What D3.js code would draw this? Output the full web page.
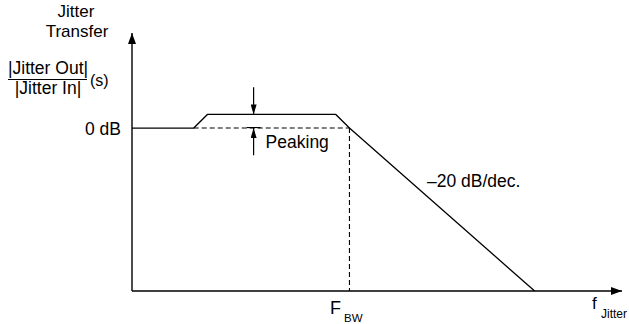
<!DOCTYPE html>
<html>
<head>
<meta charset="utf-8">
<script src="https://cdn.jsdelivr.net/npm/d3@7"></script>
<style>
  body { margin: 0; background: #fff; }
  text { font-family: "Liberation Sans", Arial, sans-serif; fill: #000; }
</style>
</head>
<body>
<div id="container"></div>
<script>
// frequency normalised to F_BW (log axis), gain in dB
const respFreq = [3e-4, 0.003, 0.005, 0.6, 1, 1000];
const respDb = [0, 0, 5, 5, 0, -60];

const refFreq = [0.003, 1];   // dashed 0 dB reference up to F_BW
const peakFreq = 0.028;        // where the peaking arrows sit
const peakDb = [15, 5, 0, -10]; // down-arrow top, peak, 0 dB, up-arrow bottom

function drawChart() {
    const width = 629;
    const height = 324;

    const x = d3.scaleLog().domain([3e-4, 2.6e4]).range([132, 622]);
    const y = d3.scaleLinear().domain([-60, 35]).range([291, 33]);

    const svg = d3.create("svg")
        .attr("width", width)
        .attr("height", height)
        .attr("viewBox", [0, 0, width, height]);

    const defs = svg.append("defs");
    defs.append("marker")
        .attr("id", "axisHead")
        .attr("viewBox", "0 0 11 8")
        .attr("refX", 11).attr("refY", 4)
        .attr("markerWidth", 11).attr("markerHeight", 8)
        .attr("markerUnits", "userSpaceOnUse")
        .attr("orient", "auto")
        .append("path").attr("d", "M0,0L11,4L0,8Z").attr("fill", "#000");
    defs.append("marker")
        .attr("id", "smallHead")
        .attr("viewBox", "0 0 10 6")
        .attr("refX", 10).attr("refY", 3)
        .attr("markerWidth", 10).attr("markerHeight", 6)
        .attr("markerUnits", "userSpaceOnUse")
        .attr("orient", "auto")
        .append("path").attr("d", "M0,0L10,3L0,6Z").attr("fill", "#000");

    const [xMin, xMax] = x.domain();
    const [yMin, yMax] = y.domain();

    // axes
    svg.append("line")
        .attr("x1", x(xMin)).attr("y1", y(yMin))
        .attr("x2", x(xMin)).attr("y2", y(yMax))
        .attr("stroke", "#000").attr("stroke-width", 1.4)
        .attr("marker-end", "url(#axisHead)");
    svg.append("line")
        .attr("x1", x(xMin)).attr("y1", y(yMin))
        .attr("x2", x(xMax)).attr("y2", y(yMin))
        .attr("stroke", "#000").attr("stroke-width", 1.4)
        .attr("marker-end", "url(#axisHead)");

    // dashed reference lines
    svg.append("line")
        .attr("x1", x(refFreq[0])).attr("y1", y(0))
        .attr("x2", x(refFreq[1])).attr("y2", y(0))
        .attr("stroke", "#000").attr("stroke-width", 1.1)
        .attr("stroke-dasharray", "5,3");
    svg.append("line")
        .attr("x1", x(refFreq[1])).attr("y1", y(0))
        .attr("x2", x(refFreq[1])).attr("y2", y(yMin))
        .attr("stroke", "#000").attr("stroke-width", 1.1)
        .attr("stroke-dasharray", "5,3");

    // jitter transfer curve
    const line = d3.line()
        .x((d, i) => x(respFreq[i]))
        .y(d => y(d));
    svg.append("path")
        .datum(respDb)
        .attr("d", line)
        .attr("fill", "none")
        .attr("stroke", "#000")
        .attr("stroke-width", 1.3);

    // peaking arrows
    const px = x(peakFreq);
    svg.append("line")
        .attr("x1", px).attr("y1", y(peakDb[0]))
        .attr("x2", px).attr("y2", y(peakDb[1]))
        .attr("stroke", "#000").attr("stroke-width", 1.2)
        .attr("marker-end", "url(#smallHead)");
    svg.append("line")
        .attr("x1", px).attr("y1", y(peakDb[3]))
        .attr("x2", px).attr("y2", y(peakDb[2]))
        .attr("stroke", "#000").attr("stroke-width", 1.2)
        .attr("marker-end", "url(#smallHead)");
    svg.append("line")
        .attr("x1", px - 7).attr("y1", y(peakDb[2]) - 0.5)
        .attr("x2", px + 7).attr("y2", y(peakDb[2]) - 0.5)
        .attr("stroke", "#000").attr("stroke-width", 1.1);

    // labels
    const label = (tx, ty, str, size, anchor) => svg.append("text")
        .attr("x", tx).attr("y", ty)
        .attr("font-size", size)
        .attr("text-anchor", anchor || "start")
        .text(str);

    label(76, 17, "Jitter", 17, "middle");
    label(77, 37, "Transfer", 17, "middle");
    label(48, 74, "|Jitter Out|", 17.5, "middle");
    svg.append("line")
        .attr("x1", 8).attr("y1", 79.5).attr("x2", 87).attr("y2", 79.5)
        .attr("stroke", "#000").attr("stroke-width", 1.2);
    label(48, 94, "|Jitter In|", 17.5, "middle");
    label(90, 86, "(s)", 16);

    label(x(xMin) - 11, y(0) + 6.5, "0 dB", 17.5, "end");
    label(px + 12, 148, "Peaking", 17.5);
    label(427, 187, "\u201320 dB/dec.", 17.5);

    label(330, 314, "F", 18);
    label(344, 322, "BW", 11.5);
    label(592, 309, "f", 17);
    label(601, 318, "Jitter", 12);

    document.getElementById("container").appendChild(svg.node());
}

drawChart();
</script>
</body>
</html>
